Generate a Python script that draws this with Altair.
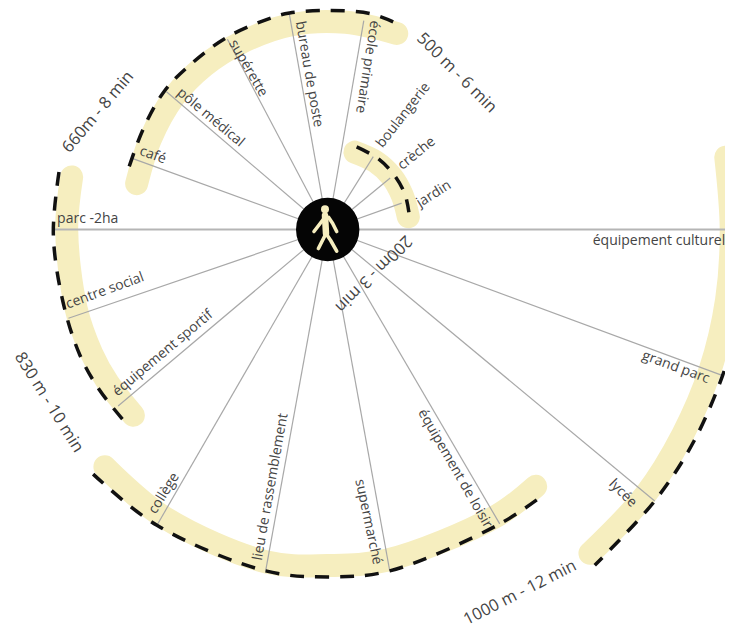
import math
import altair as alt
import pandas as pd

# centre of the diagram inside the 733x637 picture
CX, CY = 327.7, 229.5
X_DOMAIN = [8 - CX, 725 - CX]
Y_DOMAIN = [CY - 629, CY - 8]

# spokes: bearing (deg clockwise from north), reach
spoke_bearings = [9.8, -10.1, -27.8, -49.5, -70, -108.9, -130.1, -150, -169.7, 169.7, 149.7, 129.7, 110.3, 32, 50.5, 70.4]
spoke_reach = [212, 219, 215, 212, 208, 274, 274, 342, 347, 347, 341, 425, 422, 86, 81, 78.5]
axis_bearings = [-90, 90]
axis_reach = [275, 420]

# pale bands (bearing, distance)
band_1 = [(19.4, 82), (35, 83), (50, 83), (65, 82), (81, 81.6)]
band_2 = [(19.4, 207.8), (5, 208), (-10, 208), (-25, 206), (-37, 205), (-49.2, 203), (-63, 199), (-76.5, 196.5)]
band_3 = [(-78.4, 261.4), (-90, 261), (-107.4, 263.7), (-117.7, 266.6), (-125, 268), (-133.7, 268.8)]
band_4 = [(-136.8, 325.5), (-150.2, 331), (-169.6, 338), (180, 336), (169.9, 336), (149.8, 332.5), (141, 330.5)]
band_5 = [(79.7, 404.6), (90, 403.5), (100, 405), (110.2, 407.4), (120, 410), (129.9, 413.9), (141, 416.7)]

# dashed outlines (bearing, distance)
dash_1 = [(19.3, 87.5), (35, 87), (50, 86), (65, 85), (78, 83)]
dash_2 = [(17.5, 217.7), (11, 220), (0, 219), (-10, 219.8), (-15, 219), (-28, 217), (-41, 214.5), (-50, 214), (-61.7, 210), (-75.4, 208.7)]
dash_3 = [(-77.9, 274.8), (-91, 274.4), (-105.6, 274.5), (-116.9, 277.8), (-125, 279), (-133, 279.5)]
dash_4 = [(-136.2, 338.9), (-150, 341.6), (-169.7, 347), (180, 347.4), (169.7, 347), (149.7, 341), (141.6, 341.9)]
dash_5 = [(96, 418), (105.7, 419.7), (110.3, 421), (120, 423), (129.7, 425), (141.5, 429)]

# labels: text, bearing, distance, rotation
label_text = ["école primaire", "bureau de poste", "supérette", "pôle médical", "café", "parc -2ha",
              "centre social", "équipement sportif", "collège", "lieu de rassemblement", "supermarché",
              "équipement de loisir", "lycée", "grand parc", "équipement culturel", "boulangerie", "crèche", "jardin"]
label_bearing = [13.7, -6.9, -26.3, -46.3, -67, -87.6, -105.4, -126.9, -148.2, -167.5, 172.1, 152, 131.8, 111.6, 92.0, 33.5, 49.5, 71.6]
label_dist = [167.4, 156.4, 179.9, 162, 190, 240.2, 231, 206, 310.5, 263.6, 295.2, 270.8, 395.9, 374.4, 331.5, 137, 117, 112]
label_rot = [99, 80, 60, 40, 20, 0, -20, -40, -58, -80, 78, 60, 45, 20, 0, -52, -39, -32]

ring_text = ["500 m - 6 min", "660m - 8 min", "830 m - 10 min", "1000 m - 12 min", "200m - 3 min"]
ring_bearing = [39.5, -62.9, -121.8, 152.1, 134.1]
ring_dist = [202.9, 257.9, 328, 411, 63.6]
ring_rot = [45, -50, 58, -27, 135]

# walking figure limbs (x, y around the hub)
limb_arm_l = [(-3, 12), (-13.7, -2)]
limb_arm_r = [(1, 12), (5, 6), (9, -2)]
limb_leg_l = [(-1.7, -4), (-9.3, -19)]
limb_leg_r = [(-1.7, -4), (3, -11), (9, -21.7)]
torso = [(-2.7, 14), (-1.7, -4)]
head = [(-2.7, 20.3)]


def polar(b, r):
    a = math.radians(b)
    return r * math.sin(a), r * math.cos(a)


def path_frame(groups):
    rows = []
    for name, pts in groups.items():
        for i, (b, r) in enumerate(pts):
            x, y = polar(b, r)
            rows.append({"g": name, "i": i, "x": x, "y": y})
    return pd.DataFrame(rows)


def xy_frame(groups):
    return pd.DataFrame([{"g": n, "i": i, "x": p[0], "y": p[1]} for n, pts in groups.items() for i, p in enumerate(pts)])


xs = alt.X("x:Q", scale=alt.Scale(domain=X_DOMAIN, nice=False, zero=False), axis=None)
ys = alt.Y("y:Q", scale=alt.Scale(domain=Y_DOMAIN, nice=False, zero=False), axis=None)


def path_layer(df, **mark):
    return alt.Chart(df).mark_line(clip=True, **mark).encode(x=xs, y=ys, detail="g:N", order="i:Q")


bands = path_frame({"1": band_1, "2": band_2, "3": band_3, "4": band_4, "5": band_5})
dashes = path_frame({"1": dash_1, "2": dash_2, "3": dash_3, "4": dash_4, "5": dash_5})
spokes = path_frame({str(k): [(0, 0), (b, r)] for k, (b, r) in enumerate(zip(spoke_bearings, spoke_reach))})
axis_line = path_frame({str(k): [(0, 0), (b, r)] for k, (b, r) in enumerate(zip(axis_bearings, axis_reach))})
limbs = xy_frame({"a": limb_arm_l, "b": limb_arm_r, "c": limb_leg_l, "d": limb_leg_r})
body = xy_frame({"t": torso})
head_df = xy_frame({"h": head})
hub = pd.DataFrame({"x": [0], "y": [0]})


def text_frame(texts, bearings, dists, rots):
    rows = []
    for t, b, d, r in zip(texts, bearings, dists, rots):
        x, y = polar(b, d)
        rows.append({"t": t, "x": x, "y": y, "rot": r})
    return pd.DataFrame(rows)


labels = text_frame(label_text, label_bearing, label_dist, label_rot)
rings = text_frame(ring_text, ring_bearing, ring_dist, ring_rot)


def text_layer(df, size, color):
    return alt.Chart(df).mark_text(font="Open Sans", fontSize=size, color=color, align="center",
                                   baseline="middle", clip=True).encode(
        x=xs, y=ys, text="t:N", angle=alt.Angle("rot:Q", scale=None))


layers = [
    path_layer(bands, color="#f6eebf", strokeWidth=23, strokeCap="round", strokeJoin="round", interpolate="catmull-rom"),
    path_layer(axis_line, color="#b5b5b5", strokeWidth=2),
    path_layer(spokes, color="#a8a8a8", strokeWidth=1.2),
    path_layer(dashes, color="#111111", strokeWidth=3.5, strokeDash=[14, 11], interpolate="catmull-rom"),
    text_layer(labels, 14, "#444444"),
    text_layer(rings, 16.5, "#444444"),
    alt.Chart(hub).mark_point(filled=True, color="#050505", size=4020, opacity=1).encode(x=xs, y=ys),
    path_layer(limbs, color="#f6eebf", strokeWidth=3.6, strokeCap="round", strokeJoin="round"),
    path_layer(body, color="#f6eebf", strokeWidth=6.5, strokeCap="round"),
    alt.Chart(head_df).mark_point(filled=True, color="#f6eebf", size=64, opacity=1).encode(x=xs, y=ys),
]

chart = alt.layer(*layers).properties(
    width=717, height=621, padding=0, autosize=alt.AutoSizeParams(type="none"),
).configure_view(stroke=None)

chart.save("out.html", embed_options={"renderer": "svg", "actions": False})
